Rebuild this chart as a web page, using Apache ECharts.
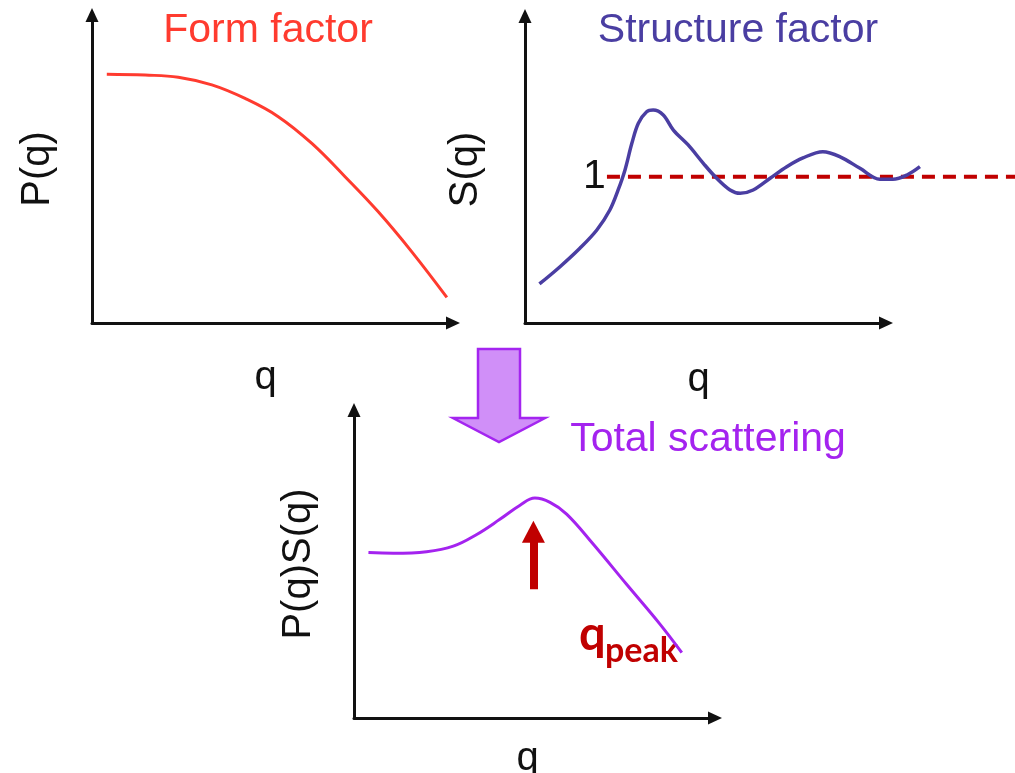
<!DOCTYPE html>
<html>
<head>
<meta charset="utf-8">
<script src="https://cdn.jsdelivr.net/npm/echarts@6/dist/echarts.min.js"></script>
<style>
  html, body { margin: 0; padding: 0; background: #ffffff; }
  #chart { width: 1015px; height: 773px; }
</style>
</head>
<body>
<div id="chart"></div>
<script>
// Form factor P(q)
const formQ = [0.41, 1.47, 2.39, 3.32, 4.24, 5.16, 6.09, 7.01, 7.93, 8.86, 9.83];
const formP = [80.8, 80.5, 79.8, 77.3, 72.9, 67.0, 58.3, 47.5, 36.1, 23.1, 8.3];

// Structure factor S(q)
const structQ = [0.40, 0.97, 1.52, 1.99, 2.35, 2.58, 2.77, 2.96, 3.14, 3.37, 3.55, 3.83, 4.11, 4.52, 4.94,
                 5.31, 5.68, 5.96, 6.32, 6.79, 7.25, 7.70, 8.25, 8.73, 9.28, 9.83, 10.19, 10.58, 10.94];
const structS = [0.267, 0.385, 0.511, 0.636, 0.773, 0.910, 1.047, 1.229, 1.366, 1.445, 1.457, 1.423, 1.320, 1.218, 1.092,
                 0.990, 0.910, 0.887, 0.910, 0.990, 1.069, 1.129, 1.172, 1.137, 1.058, 0.983, 0.983, 1.012, 1.069];

// S(q) = 1 reference level
const unityLevel = 1;
const unityQ = [2.27, 13.7];

// Total scattering P(q)S(q)
const totalQ = [0.40, 1.09, 2.01, 2.75, 3.40, 4.04, 4.60, 5.01, 5.43, 5.89, 6.63, 7.55, 8.48, 9.08];
const totalI = [53.7, 53.5, 54.0, 55.8, 59.6, 64.5, 69.1, 71.4, 70.0, 66.2, 56.4, 43.4, 30.4, 21.2];

// q_peak marker (shaft foot and head centre on the intensity scale)
const qPeak = 4.97;
const peakArrowFrom = 41.8;
const peakArrowTo = 60.5;

const zip = (xs, ys) => xs.map((x, i) => [x, ys[i]]);

const FONT = 'Liberation Sans, Arial, sans-serif';
const RED = '#ff3b2f';
const INDIGO = '#4a3ea2';
const VIOLET = '#a423ef';
const DARKRED = '#c00000';
const AXIS = '#111111';

function arrowAxisLine() {
  return {
    show: true,
    onZero: false,
    symbol: ['none', 'triangle'],
    symbolSize: [13, 14],
    lineStyle: { color: AXIS, width: 3 }
  };
}

function xAxisFor(gridIndex, gap, max) {
  return {
    gridIndex, type: 'value', min: 0, max,
    axisLine: arrowAxisLine(),
    axisTick: { show: false }, axisLabel: { show: false }, splitLine: { show: false },
    name: 'q', nameLocation: 'middle', nameGap: gap,
    nameTextStyle: { fontSize: 40, color: AXIS, fontFamily: FONT, padding: [0, 14, 0, 0] }
  };
}

function yAxisFor(gridIndex, name, gap, max, extra) {
  return Object.assign({
    gridIndex, type: 'value', min: 0, max,
    axisLine: arrowAxisLine(),
    axisTick: { show: false }, axisLabel: { show: false }, splitLine: { show: false },
    name, nameLocation: 'middle', nameGap: gap, nameRotate: 90,
    nameTextStyle: { fontSize: 40, color: AXIS, fontFamily: FONT }
  }, extra || {});
}

// hidden axes of the same scale, wide enough for the S(q) curve and the unity line
// to run on past the end of the drawn q axis
function hiddenAxis(gridIndex, max) {
  return {
    gridIndex, type: 'value', min: 0, max, show: false,
    axisLine: { show: false }, axisTick: { show: false }, axisLabel: { show: false }, splitLine: { show: false }
  };
}

const PX_PER_Q = 36.1;

function gridAt(left, top, width, height) {
  return { left, top, width, height, containLabel: false, outerBoundsMode: 'none' };
}

const chart = echarts.init(document.getElementById('chart'), null, { renderer: 'canvas' });

chart.setOption({
  animation: false,
  backgroundColor: '#ffffff',
  grid: [
    gridAt(92, 15, 361, 308),
    gridAt(525, 16, 361, 307),
    gridAt(354, 410, 361, 308),
    gridAt(525, 16, unityQ[1] * PX_PER_Q, 307)
  ],
  xAxis: [
    xAxisFor(0, 35, 10),
    xAxisFor(1, 37, 10),
    xAxisFor(2, 21, 10),
    hiddenAxis(3, unityQ[1])
  ],
  yAxis: [
    yAxisFor(0, 'P(q)', 34, 100),
    yAxisFor(1, 'S(q)', 39, 2.1, {
      interval: 1,
      axisLabel: {
        show: true, inside: true, margin: 58,
        fontSize: 41, color: AXIS, fontFamily: FONT,
        formatter: (v) => (v === unityLevel ? String(unityLevel) : '')
      }
    }),
    yAxisFor(2, 'P(q)S(q)', 35, 100),
    hiddenAxis(3, 2.1)
  ],
  series: [
    {
      type: 'line', xAxisIndex: 0, yAxisIndex: 0,
      data: zip(formQ, formP), smooth: 0.4, showSymbol: false,
      lineStyle: { color: RED, width: 3 }, silent: true
    },
    {
      type: 'line', xAxisIndex: 3, yAxisIndex: 3,
      data: unityQ.map(q => [q, unityLevel]), showSymbol: false,
      lineStyle: { color: DARKRED, width: 4, type: [13, 8] }, silent: true, z: 1
    },
    {
      type: 'line', xAxisIndex: 3, yAxisIndex: 3,
      data: zip(structQ, structS), smooth: 0.35, showSymbol: false,
      lineStyle: { color: INDIGO, width: 3.5 }, silent: true, z: 2
    },
    {
      type: 'line', xAxisIndex: 2, yAxisIndex: 2,
      data: zip(totalQ, totalI), smooth: 0.4, showSymbol: false,
      lineStyle: { color: VIOLET, width: 3 }, silent: true,
      markLine: {
        silent: true,
        symbol: ['none', 'triangle'],
        symbolSize: [23, 22],
        label: { show: false },
        lineStyle: { color: DARKRED, width: 8, type: 'solid' },
        itemStyle: { color: DARKRED },
        data: [[{ coord: [qPeak, peakArrowFrom] }, { coord: [qPeak, peakArrowTo] }]]
      }
    }
  ],
  graphic: [
    // panel titles
    { type: 'text', x: 268, y: 31, style: { text: 'Form factor', font: '41px ' + FONT, fill: RED, align: 'center', verticalAlign: 'middle', textAlign: 'center', textVerticalAlign: 'middle' } },
    { type: 'text', x: 738, y: 31, style: { text: 'Structure factor', font: '41px ' + FONT, fill: INDIGO, align: 'center', verticalAlign: 'middle', textAlign: 'center', textVerticalAlign: 'middle' } },
    { type: 'text', x: 708, y: 440, style: { text: 'Total scattering', font: '41px ' + FONT, fill: VIOLET, align: 'center', verticalAlign: 'middle', textAlign: 'center', textVerticalAlign: 'middle' } },
    // P(q) x S(q) combination arrow
    {
      type: 'polygon',
      shape: { points: [[478, 349], [520, 349], [520, 418], [545, 418], [499, 442], [453, 418], [478, 418]] },
      style: { fill: '#d08ff8', stroke: '#a425f0', lineWidth: 2.5 }
    },
    // q_peak annotation
    { type: 'text', x: 579, y: 635, style: { text: 'q', font: 'bold 47px Lato, sans-serif', fill: DARKRED, align: 'left', verticalAlign: 'middle', textAlign: 'left', textVerticalAlign: 'middle' } },
    { type: 'text', x: 605, y: 651, style: { text: 'peak', font: 'bold 34px Lato, sans-serif', fill: DARKRED, align: 'left', verticalAlign: 'middle', textAlign: 'left', textVerticalAlign: 'middle' } }
  ]
});
</script>
</body>
</html>
